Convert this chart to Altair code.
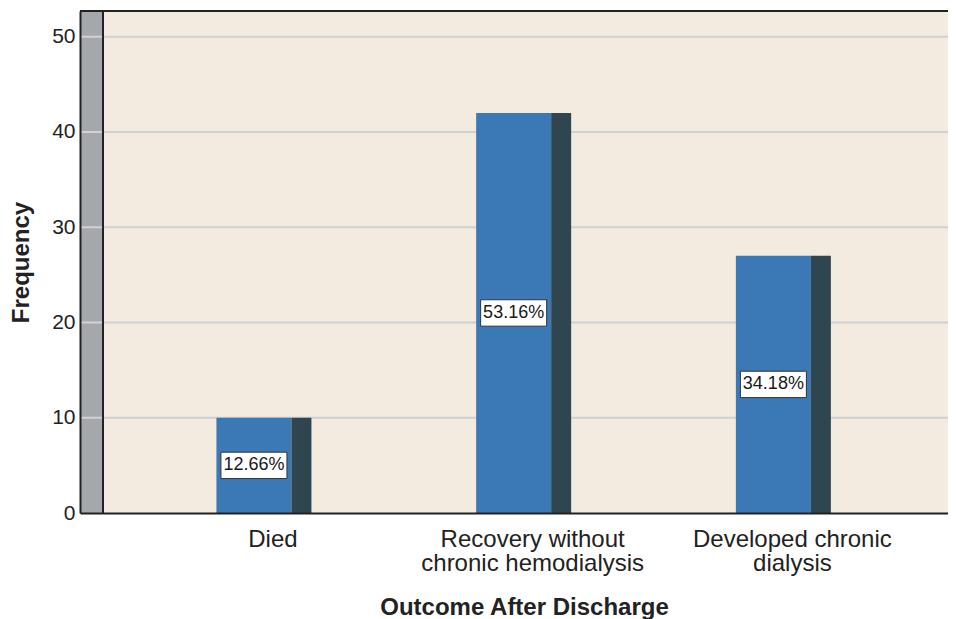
import altair as alt
import pandas as pd

categories = ["Died", "Recovery without\nchronic hemodialysis", "Developed chronic\ndialysis"]
counts = [10, 42, 27]
y_ticks = [0, 10, 20, 30, 40, 50]
grid_values = [10, 20, 30, 40, 50]

total = sum(counts)
pct_labels = [f"{c / total * 100:.2f}%" for c in counts]

df = pd.DataFrame({"outcome": categories, "count": counts, "pct": pct_labels})
grid_df = pd.DataFrame({"v": grid_values})
one = pd.DataFrame({"k": [0]})

W, H = 868, 502
YMAX = 52.7
FONT = "Liberation Sans"
INK = "#222222"

x_enc = alt.X(
    "outcome:N",
    sort=categories,
    scale=alt.Scale(domain=categories, paddingInner=0, paddingOuter=0.171, align=0.71),
    axis=alt.Axis(
        title="Outcome After Discharge",
        labelExpr="split(datum.label, '\\n')",
        labelAngle=0,
        ticks=False,
        labelPadding=14,
        labelFontSize=24,
        labelLineHeight=24,
        labelLimit=0,
        labelColor=INK,
        domainColor=INK,
        domainWidth=2,
        titleFontSize=24,
        titleFontWeight="bold",
        titleColor=INK,
        titleX=444,
        titleY=101,
        titleBaseline="alphabetic",
        zindex=1,
    ),
)

y_axis = alt.Axis(
    title="Frequency",
    values=y_ticks,
    grid=False,
    ticks=False,
    labelPadding=5,
    labelFontSize=21,
    labelColor=INK,
    domainColor=INK,
    domainWidth=2,
    titleFontSize=24,
    titleFontWeight="bold",
    titleColor=INK,
    titleAngle=270,
    titleX=-52,
    titleY=251,
    titleBaseline="alphabetic",
    zindex=1,
)
y_scale = alt.Scale(domain=[0, YMAX], nice=False, zero=True)

wall = alt.Chart(one).mark_rect(fill="#A5A8AB").encode(
    x=alt.value(0), x2=alt.value(23), y=alt.value(0), y2=alt.value(H)
)

grid = alt.Chart(grid_df).mark_rule(color="#CFD1D4", strokeWidth=2).encode(
    y=alt.Y("v:Q", scale=y_scale, axis=y_axis),
    x=alt.value(0),
    x2=alt.value(W),
)

wall_edge = alt.Chart(one).mark_rule(color=INK, strokeWidth=2).encode(
    x=alt.value(23), y=alt.value(0), y2=alt.value(H)
)

top_line = alt.Chart(one).mark_rule(color=INK, strokeWidth=2).encode(
    x=alt.value(0), x2=alt.value(W), y=alt.value(0)
)

front = alt.Chart(df).mark_bar(width=75, xOffset=-19, color="#3B79B6").encode(
    x=x_enc, y=alt.Y("count:Q", scale=y_scale, axis=y_axis)
)

side = alt.Chart(df).mark_bar(width=20, xOffset=28.5, color="#2F4650").encode(
    x=x_enc, y=alt.Y("count:Q", scale=y_scale, axis=y_axis)
)

boxes = alt.Chart(df).transform_calculate(half="datum.count / 2").mark_point(
    shape="M-1,-0.4H1V0.4H-1Z",
    size=4356,
    filled=True,
    fill="white",
    stroke="#333333",
    strokeWidth=1,
    opacity=1,
    xOffset=-19,
).encode(x=x_enc, y=alt.Y("half:Q", scale=y_scale, axis=y_axis))

texts = alt.Chart(df).transform_calculate(half="datum.count / 2").mark_text(
    fontSize=18, color="#1a1a1a", xOffset=-19, baseline="middle", font=FONT
).encode(x=x_enc, y=alt.Y("half:Q", scale=y_scale, axis=y_axis), text="pct:N")

chart = (
    alt.layer(wall, grid, wall_edge, front, side, boxes, texts, top_line)
    .properties(
        width=W,
        height=H,
        autosize=alt.AutoSizeParams(type="none"),
        padding={"left": 72, "top": 3, "right": 0, "bottom": 106},
    )
    .configure(font=FONT)
    .configure_view(fill="#F3EBDF", stroke="transparent")
)

chart.save("out.html", embed_options={"renderer": "svg", "actions": False})
